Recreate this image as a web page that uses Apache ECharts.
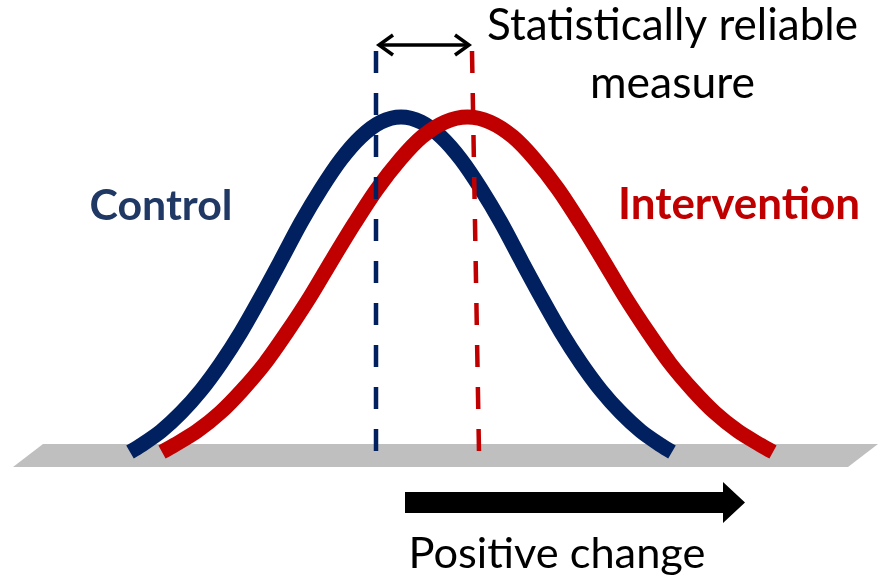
<!DOCTYPE html>
<html>
<head>
<meta charset="utf-8">
<script src="https://cdn.jsdelivr.net/npm/echarts@6/dist/echarts.min.js"></script>
<style>
  html, body { margin: 0; padding: 0; background: #ffffff; }
  #chart { width: 885px; height: 579px; }
</style>
</head>
<body>
<div id="chart"></div>
<script>
// ---- Data ----
// x in "standard units", y = relative density (peak = 1)
const controlX = [-2.69, -2.58, -2.38, -2.18, -1.98, -1.78, -1.58, -1.38, -1.18, -0.98, -0.78, -0.58, -0.38, -0.18, 0.02,
                  0.22, 0.42, 0.62, 0.82, 1.02, 1.22, 1.42, 1.62, 1.82, 2.02, 2.22, 2.42, 2.62, 2.73];
const controlY = [0, 0.020, 0.062, 0.117, 0.184, 0.265, 0.358, 0.463, 0.573, 0.685, 0.785, 0.873, 0.941, 0.985, 1,
                  0.985, 0.941, 0.873, 0.785, 0.685, 0.573, 0.463, 0.358, 0.265, 0.184, 0.117, 0.062, 0.020, 0];
const interventionX = [-2.37, -2.25, -2.02, -1.79, -1.57, -1.34, -1.12, -0.89, -0.67, -0.44, -0.22, 0.01, 0.23, 0.46, 0.685,
                       0.91, 1.14, 1.36, 1.59, 1.81, 2.04, 2.26, 2.49, 2.71, 2.94, 3.16, 3.39, 3.62, 3.74];
const interventionY = [0, 0.020, 0.062, 0.117, 0.184, 0.265, 0.358, 0.463, 0.573, 0.685, 0.785, 0.873, 0.941, 0.985, 1,
                       0.985, 0.941, 0.873, 0.785, 0.685, 0.573, 0.463, 0.358, 0.265, 0.184, 0.117, 0.062, 0.020, 0];
// dashed reference lines: [xTop, xBottom]
const controlMeanLine = [-0.23, -0.23];
const interventionMeanLine = [0.73, 0.80];
const meanLineTop = 1.197;
// double arrow between means: [xStart, xEnd, y]
const reliableArrow = [-0.22, 0.72, 1.215];

const labels = {
  control: 'Control',
  intervention: 'Intervention',
  reliable1: 'Statistically reliable',
  reliable2: 'measure',
  positive: 'Positive change'
};

const BLUE = '#002060';
const RED = '#C00000';

function zip(xs, ys) { return xs.map((x, i) => [x, ys[i]]); }

const measureCtx = document.createElement('canvas').getContext('2d');
function fitSize(text, weight, family, target) {
  measureCtx.font = weight + ' 100px ' + family;
  return 100 * target / measureCtx.measureText(text).width;
}
const FAMILY = 'Lato';

function textEl(text, cx, baseline, targetW, weight, color) {
  const size = fitSize(text, weight, FAMILY, targetW);
  return {
    type: 'text',
    x: cx,
    y: baseline - 0.36 * size,
    z: 100,
    style: {
      text: text,
      fill: color,
      font: weight + ' ' + size.toFixed(2) + 'px ' + FAMILY,
      align: 'center',
      verticalAlign: 'middle'
    }
  };
}

const chart = echarts.init(document.getElementById('chart'), null, { renderer: 'canvas' });

const option = {
  backgroundColor: '#ffffff',
  animation: false,
  grid: { left: 0, right: 0, top: 117, bottom: 127, containLabel: false },
  xAxis: { type: 'value', min: -3.99, max: 4.86, show: false },
  yAxis: { type: 'value', min: 0, max: 1, show: false },
  graphic: [
    {
      type: 'polygon',
      z: -10,
      shape: { points: [[43, 444], [878, 444], [848, 467], [13, 467]] },
      style: { fill: '#BFBFBF' },
      silent: true
    },
    {
      type: 'polygon',
      z: 100,
      shape: { points: [[405, 492], [723, 492], [723, 482], [745, 502.5], [723, 523], [723, 513], [405, 513]] },
      style: { fill: '#000000' },
      silent: true
    },
    textEl(labels.reliable1, 672.5, 42, 371, 'normal', '#000000'),
    textEl(labels.reliable2, 672.5, 100, 165, 'normal', '#000000'),
    textEl(labels.control, 161, 222, 143, 'bold', '#1F3864'),
    textEl(labels.intervention, 739, 221, 242, 'bold', RED),
    textEl(labels.positive, 557, 570, 297, 'normal', '#000000')
  ],
  series: [
    {
      name: 'Control',
      type: 'line',
      data: zip(controlX, controlY),
      smooth: 0.3,
      symbol: 'none',
      clip: false,
      z: 2,
      lineStyle: { color: BLUE, width: 15, cap: 'butt', join: 'round' }
    },
    {
      name: 'Intervention',
      type: 'line',
      data: zip(interventionX, interventionY),
      smooth: 0.3,
      symbol: 'none',
      clip: false,
      z: 3,
      lineStyle: { color: RED, width: 15, cap: 'butt', join: 'round' }
    },
    {
      name: 'Control mean',
      type: 'line',
      data: [[controlMeanLine[0], meanLineTop], [controlMeanLine[1], 0]],
      symbol: 'none',
      clip: false,
      z: 4,
      lineStyle: { color: BLUE, width: 4.5, type: [22, 20], cap: 'butt' }
    },
    {
      name: 'Intervention mean',
      type: 'line',
      data: [[interventionMeanLine[0], meanLineTop], [interventionMeanLine[1], 0]],
      symbol: 'none',
      clip: false,
      z: 4,
      lineStyle: { color: RED, width: 4.5, type: [22, 20], cap: 'butt' }
    },
    {
      name: 'Reliable difference',
      type: 'custom',
      clip: false,
      z: 5,
      data: [reliableArrow],
      renderItem: function (params, api) {
        const p1 = api.coord([api.value(0), api.value(2)]);
        const p2 = api.coord([api.value(1), api.value(2)]);
        const style = { stroke: '#000000', lineWidth: 3.5, fill: null, lineJoin: 'miter', lineCap: 'butt' };
        return {
          type: 'group',
          children: [
            { type: 'line', shape: { x1: p1[0] + 2, y1: p1[1], x2: p2[0] - 2, y2: p2[1] }, style: style },
            { type: 'polyline', shape: { points: [[p1[0] + 16, p1[1] - 10], [p1[0] + 2, p1[1]], [p1[0] + 16, p1[1] + 10]] }, style: style },
            { type: 'polyline', shape: { points: [[p2[0] - 16, p2[1] - 10], [p2[0] - 2, p2[1]], [p2[0] - 16, p2[1] + 10]] }, style: style }
          ]
        };
      }
    }
  ]
};

chart.setOption(option);
</script>
</body>
</html>
